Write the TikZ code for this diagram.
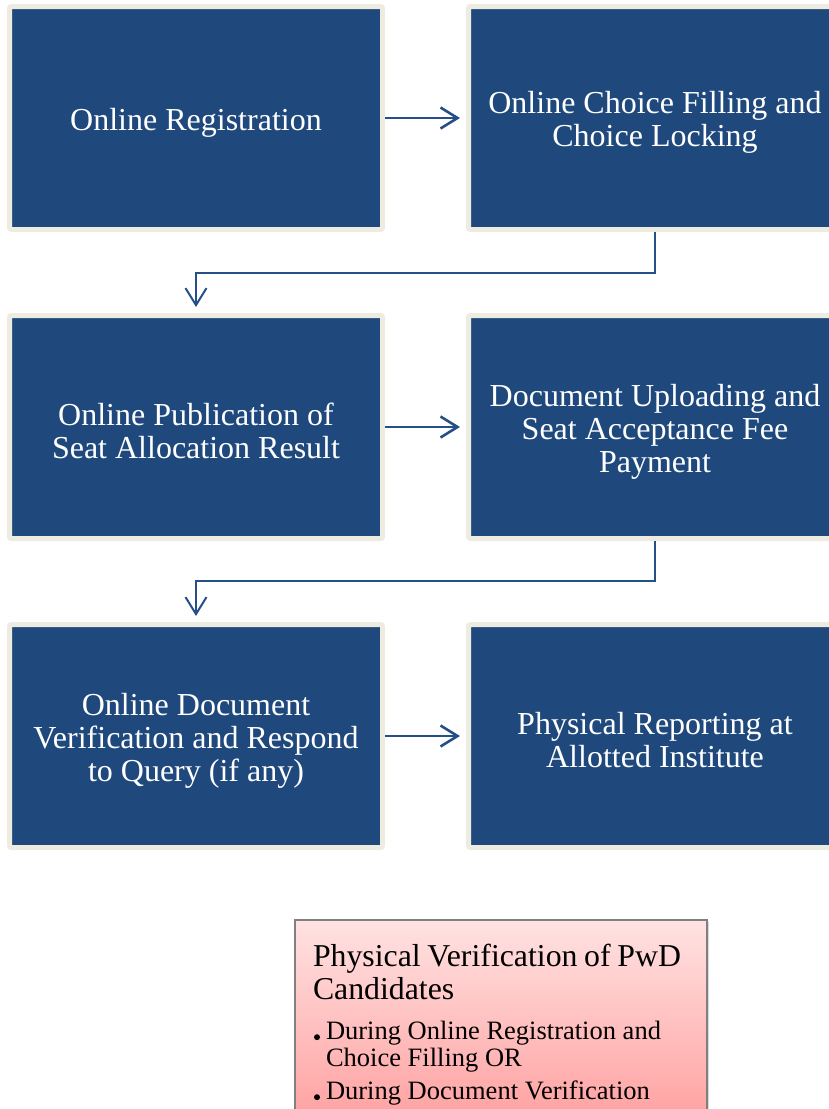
\documentclass[tikz,border=0pt]{standalone}
\usepackage{fontspec}
\setmainfont{Liberation Serif}
\usetikzlibrary{arrows.meta,positioning,shadows}

\definecolor{boxblue}{RGB}{31,73,125}
\definecolor{boxrim}{RGB}{238,236,225}
\definecolor{linkblue}{RGB}{37,79,135}
\definecolor{pinktop}{RGB}{255,226,226}
\definecolor{pinkbottom}{RGB}{255,158,158}
\definecolor{pinkrim}{RGB}{128,128,128}

\newcommand\stagestrut{\rule{0pt}{15.5pt}}
\newcommand\pwdbullet{\makebox[6.5pt][l]{\hspace{0.5pt}\tikz[baseline=0pt,x=1pt,y=1pt]\fill[black] (0,1.3) circle (1.5);}}

\begin{document}
\begin{tikzpicture}[x=0.5pt,y=-0.5pt,->,>={Straight Barb[length=8.5pt,width=10.5pt]},node distance=40.5pt,
                    stage node/.style={rectangle,rounded corners=1pt,fill=boxblue,draw=boxrim,line width=2.5pt,
                                       minimum width=186.5pt,minimum height=111.5pt,inner sep=0pt,
                                       text=white,align=center,font=\fontsize{16}{16.5}\selectfont},
                    pwd node/.style={rectangle,draw=pinkrim,line width=1pt,top color=pinktop,bottom color=pinkbottom,
                                     drop shadow={shadow xshift=1pt,shadow yshift=-1pt,opacity=0.3},
                                     text width=188pt,inner xsep=9pt,inner ysep=12.2pt,align=left},
                    flow/.style={linkblue,line width=1.3pt,shorten >=3pt},
                    bend link/.style={linkblue,line width=1pt,shorten >=3pt}]
\useasboundingbox (0,0) rectangle (829,1109);
\clip (0,0) rectangle (829,1109);

\node[stage node] (reg) at (196,118) {\stagestrut Online Registration};
\node[stage node] (choice) [right=of reg] {\stagestrut Online Choice Filling and\\Choice Locking};
\node[stage node] (result) [below=of reg] {\stagestrut Online Publication of\\Seat Allocation Result};
\node[stage node] (upload) [right=of result] {\stagestrut Document Uploading and\\Seat Acceptance Fee\\Payment};
\node[stage node] (verify) [below=of result] {\stagestrut Online Document\\Verification and Respond\\to Query (if any)};
\node[stage node] (report) [right=of verify] {\stagestrut Physical Reporting at\\Allotted Institute};

\path (reg) edge[flow] (choice)
      (result) edge[flow] (upload)
      (verify) edge[flow] (report);

% step down to the next row
\draw[bend link] (choice.south) -- ++(0,41) -| (result.north);
\draw[bend link] (upload.south) -- ++(0,40) -| (verify.north);

\node[pwd node,anchor=north west] (pwd) at (294,919) {%
  {\fontsize{15.9}{16.5}\selectfont\mbox{Physical Verification of PwD}\\Candidates\par}
  \vspace{6.5pt}
  {\fontsize{13.25}{13.5}\selectfont\pwdbullet During Online Registration and\\\hspace*{6.5pt}Choice Filling OR\par}
  \vspace{3pt}
  {\fontsize{13.25}{13.5}\selectfont\pwdbullet During Document Verification\par}};
\end{tikzpicture}
\end{document}
